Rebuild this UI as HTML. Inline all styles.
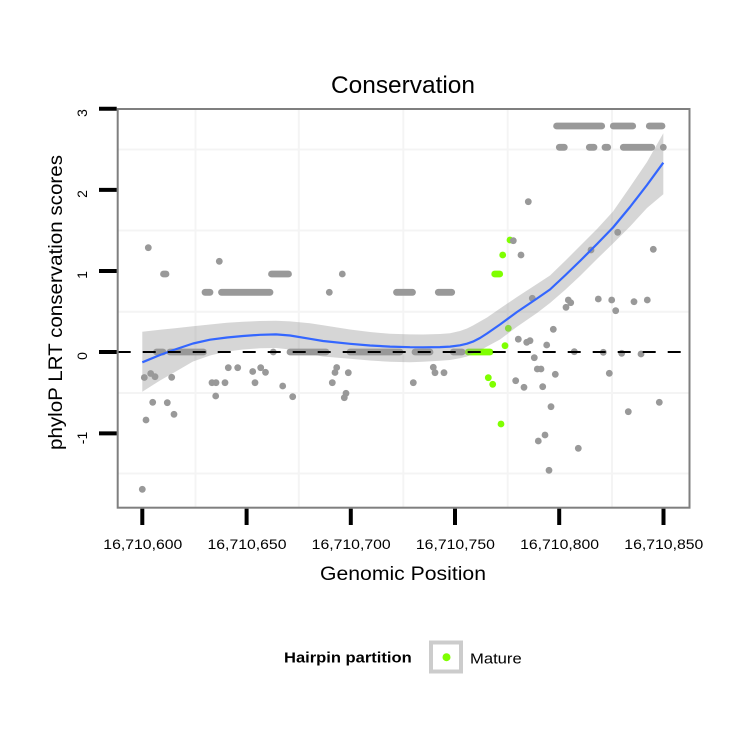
<!DOCTYPE html>
<html><head><meta charset="utf-8"><style>
html,body{margin:0;padding:0;background:#fff;}
svg{display:block;}
text{font-family:"Liberation Sans",Arial,sans-serif;fill:#000;}
</style></head><body>
<svg width="750" height="750" viewBox="0 0 750 750" xmlns="http://www.w3.org/2000/svg">
<rect x="0" y="0" width="750" height="750" fill="#fff"/>
<g stroke="#f4f4f4" stroke-width="2">
<line x1="195.5" y1="109" x2="195.5" y2="507.7"/>
<line x1="298.8" y1="109" x2="298.8" y2="507.7"/>
<line x1="403.3" y1="109" x2="403.3" y2="507.7"/>
<line x1="507.7" y1="109" x2="507.7" y2="507.7"/>
<line x1="612" y1="109" x2="612" y2="507.7"/>
<line x1="117.7" y1="149.5" x2="689.5" y2="149.5"/>
<line x1="117.7" y1="230.5" x2="689.5" y2="230.5"/>
<line x1="117.7" y1="311.7" x2="689.5" y2="311.7"/>
<line x1="117.7" y1="393" x2="689.5" y2="393"/>
<line x1="117.7" y1="473.5" x2="689.5" y2="473.5"/>
</g>
<g stroke="#999999" stroke-width="6.8" stroke-linecap="round">
<line x1="205" y1="292.3" x2="210" y2="292.3"/>
<line x1="221.5" y1="292.3" x2="270" y2="292.3"/>
<line x1="396.5" y1="292.3" x2="412.5" y2="292.3"/>
<line x1="438.3" y1="292.3" x2="451.7" y2="292.3"/>
<line x1="163.5" y1="274" x2="166" y2="274"/>
<line x1="271.5" y1="274" x2="288.5" y2="274"/>
<line x1="156.5" y1="352" x2="163" y2="352"/>
<line x1="170" y1="352" x2="203.5" y2="352"/>
<line x1="290" y1="352" x2="326" y2="352"/>
<line x1="350" y1="352" x2="400" y2="352"/>
<line x1="415" y1="352" x2="430" y2="352"/>
<line x1="453.3" y1="352" x2="462" y2="352"/>
<line x1="556.6" y1="126" x2="601.7" y2="126"/>
<line x1="613.3" y1="126" x2="632.7" y2="126"/>
<line x1="649.3" y1="126" x2="662" y2="126"/>
<line x1="559.3" y1="147.3" x2="564.3" y2="147.3"/>
<line x1="589.3" y1="147.3" x2="594" y2="147.3"/>
<line x1="605" y1="147.3" x2="607.7" y2="147.3"/>
<line x1="623.3" y1="147.3" x2="651.7" y2="147.3"/>
</g>
<g fill="#999999">
<circle cx="663.3" cy="147.3" r="3.4"/>
<circle cx="148.3" cy="247.7" r="3.4"/>
<circle cx="219.3" cy="261.3" r="3.4"/>
<circle cx="342.3" cy="274" r="3.4"/>
<circle cx="329.3" cy="292.3" r="3.4"/>
<circle cx="273.3" cy="352" r="3.4"/>
<circle cx="528.3" cy="201.7" r="3.4"/>
<circle cx="521" cy="255" r="3.4"/>
<circle cx="617.7" cy="232.3" r="3.4"/>
<circle cx="591" cy="250" r="3.4"/>
<circle cx="653.3" cy="249.3" r="3.4"/>
<circle cx="532.3" cy="298.3" r="3.4"/>
<circle cx="568.3" cy="300" r="3.4"/>
<circle cx="570.7" cy="302.7" r="3.4"/>
<circle cx="566" cy="307.3" r="3.4"/>
<circle cx="598.3" cy="299" r="3.4"/>
<circle cx="611.7" cy="300" r="3.4"/>
<circle cx="615.7" cy="310.7" r="3.4"/>
<circle cx="634" cy="301.7" r="3.4"/>
<circle cx="647.3" cy="300" r="3.4"/>
<circle cx="553.3" cy="329.3" r="3.4"/>
<circle cx="518.3" cy="339.2" r="3.4"/>
<circle cx="526.7" cy="342.3" r="3.4"/>
<circle cx="530" cy="340.7" r="3.4"/>
<circle cx="546.7" cy="345" r="3.4"/>
<circle cx="534.3" cy="357.7" r="3.4"/>
<circle cx="537.3" cy="369" r="3.4"/>
<circle cx="541" cy="369" r="3.4"/>
<circle cx="555.3" cy="374.3" r="3.4"/>
<circle cx="515.7" cy="380.7" r="3.4"/>
<circle cx="524" cy="387.3" r="3.4"/>
<circle cx="542.7" cy="386.7" r="3.4"/>
<circle cx="574.3" cy="351.7" r="3.4"/>
<circle cx="603.3" cy="352.3" r="3.4"/>
<circle cx="621.7" cy="353.3" r="3.4"/>
<circle cx="641" cy="354" r="3.4"/>
<circle cx="609.3" cy="373.3" r="3.4"/>
<circle cx="551" cy="406.7" r="3.4"/>
<circle cx="545" cy="435" r="3.4"/>
<circle cx="538.3" cy="441" r="3.4"/>
<circle cx="578.3" cy="448.3" r="3.4"/>
<circle cx="549" cy="470.3" r="3.4"/>
<circle cx="628.3" cy="411.7" r="3.4"/>
<circle cx="659.3" cy="402.3" r="3.4"/>
<circle cx="144.3" cy="377.5" r="3.4"/>
<circle cx="150.7" cy="373.5" r="3.4"/>
<circle cx="155" cy="376.7" r="3.4"/>
<circle cx="171.7" cy="377.3" r="3.4"/>
<circle cx="152.7" cy="402.3" r="3.4"/>
<circle cx="167.3" cy="402.7" r="3.4"/>
<circle cx="146" cy="420" r="3.4"/>
<circle cx="174" cy="414.3" r="3.4"/>
<circle cx="142.3" cy="489.3" r="3.4"/>
<circle cx="212" cy="382.7" r="3.4"/>
<circle cx="216" cy="382.7" r="3.4"/>
<circle cx="225" cy="382.7" r="3.4"/>
<circle cx="215.7" cy="396" r="3.4"/>
<circle cx="228.3" cy="367.7" r="3.4"/>
<circle cx="237.7" cy="367.7" r="3.4"/>
<circle cx="252.7" cy="371.5" r="3.4"/>
<circle cx="260.7" cy="367.7" r="3.4"/>
<circle cx="265.5" cy="372.3" r="3.4"/>
<circle cx="255" cy="382.7" r="3.4"/>
<circle cx="282.7" cy="386" r="3.4"/>
<circle cx="292.7" cy="396.7" r="3.4"/>
<circle cx="336.7" cy="367.5" r="3.4"/>
<circle cx="335" cy="372.5" r="3.4"/>
<circle cx="348.3" cy="372.7" r="3.4"/>
<circle cx="332.3" cy="382.7" r="3.4"/>
<circle cx="346" cy="393.3" r="3.4"/>
<circle cx="344.3" cy="397.7" r="3.4"/>
<circle cx="433.3" cy="367.3" r="3.4"/>
<circle cx="435" cy="372.7" r="3.4"/>
<circle cx="444" cy="372.7" r="3.4"/>
<circle cx="413.3" cy="382.7" r="3.4"/>
</g>
<g stroke="#7FFF00" stroke-width="6.8" stroke-linecap="round">
<line x1="468.3" y1="352" x2="490" y2="352"/>
<line x1="494.7" y1="274" x2="499.7" y2="274"/>
</g>
<g fill="#7FFF00">
<circle cx="510" cy="240" r="3.4"/>
<circle cx="502.7" cy="255" r="3.4"/>
<circle cx="508.3" cy="328.3" r="3.4"/>
<circle cx="505" cy="345.7" r="3.4"/>
<circle cx="488.3" cy="377.7" r="3.4"/>
<circle cx="492.7" cy="384.3" r="3.4"/>
<circle cx="501" cy="424" r="3.4"/>
</g>
<circle cx="513.3" cy="240.7" r="3.4" fill="#999999"/>
<polygon fill="#999999" fill-opacity="0.4" points="142.3,331.7 160,329.8 175,328.3 193,326.3 210,324.5 227,322.8 243,321.7 260,321 276,320.7 290,321.4 310,323.3 323,325.3 350,329.5 370,332 390,333.8 410,334.4 423,334.5 440,334 450,333.2 460,331 467,328.5 473,325.5 480,321.5 487,317.5 500,308.5 517,297 537,284 550,275.5 565,261 580,246 597,229 613,211.5 630,187 647,162 663.3,133.3 663.3,194.3 647,208 630,226.5 613,243.5 597,259 580,276 565,290 550,303 537,313 517,326.7 500,339.5 487,346.5 480,350.5 473,353.5 467,356.5 460,358.3 450,360 440,360.8 423,361.8 410,362.2 390,361.8 370,360.5 350,358.8 323,356.5 310,354 290,349.5 276,348 260,348.3 243,349.5 227,351.5 210,355.5 193,361.5 175,372 160,380.5 142.3,391.7"/>
<polyline fill="none" stroke="#3366FF" stroke-width="2.2" stroke-linejoin="round" points="142.3,362.3 160,355 175,349.5 193,343.5 210,339.7 227,337.5 243,336 260,334.8 276,334.4 290,335.5 310,338.8 323,341 350,343.8 370,345.5 390,346.6 410,347.2 423,347.3 440,347.1 450,346.6 460,345.3 467,343.7 473,341.6 480,338 487,333.5 500,324.5 517,312 537,298.5 550,289.5 565,275.5 580,261 597,244 613,227.5 630,207 647,185 663.3,162.7"/>
<line x1="117.7" y1="352" x2="689.5" y2="352" stroke="#000" stroke-width="2" stroke-dasharray="13 12"/>
<rect x="117.7" y="109" width="571.8" height="398.7" fill="none" stroke="#7f7f7f" stroke-width="2"/>
<g stroke="#000" stroke-width="4">
<line x1="99" y1="108.8" x2="116.7" y2="108.8"/>
<line x1="99" y1="189.9" x2="116.7" y2="189.9"/>
<line x1="99" y1="271" x2="116.7" y2="271"/>
<line x1="99" y1="352" x2="116.7" y2="352"/>
<line x1="99" y1="433.4" x2="116.7" y2="433.4"/>
<line x1="142.3" y1="508.7" x2="142.3" y2="525"/>
<line x1="246.6" y1="508.7" x2="246.6" y2="525"/>
<line x1="350.8" y1="508.7" x2="350.8" y2="525"/>
<line x1="455" y1="508.7" x2="455" y2="525"/>
<line x1="559.2" y1="508.7" x2="559.2" y2="525"/>
<line x1="663.5" y1="508.7" x2="663.5" y2="525"/>
</g>
<g font-size="14" text-anchor="middle">
<text transform="translate(87,113) rotate(-90)">3</text>
<text transform="translate(87,194) rotate(-90)">2</text>
<text transform="translate(87,275) rotate(-90)">1</text>
<text transform="translate(87,356) rotate(-90)">0</text>
<text transform="translate(87,438) rotate(-90)">-1</text>
</g>
<g font-size="13.5" text-anchor="middle">
<text x="142.8" y="549" textLength="79" lengthAdjust="spacingAndGlyphs">16,710,600</text>
<text x="247" y="549" textLength="79" lengthAdjust="spacingAndGlyphs">16,710,650</text>
<text x="351.2" y="549" textLength="79" lengthAdjust="spacingAndGlyphs">16,710,700</text>
<text x="455.4" y="549" textLength="79" lengthAdjust="spacingAndGlyphs">16,710,750</text>
<text x="559.6" y="549" textLength="79" lengthAdjust="spacingAndGlyphs">16,710,800</text>
<text x="663.8" y="549" textLength="79" lengthAdjust="spacingAndGlyphs">16,710,850</text>
</g>
<text x="403" y="93" font-size="24" text-anchor="middle" textLength="144" lengthAdjust="spacingAndGlyphs">Conservation</text>
<text x="403" y="580" font-size="19" text-anchor="middle" textLength="166" lengthAdjust="spacingAndGlyphs">Genomic Position</text>
<text transform="translate(62,302.5) rotate(-90)" font-size="19" text-anchor="middle" textLength="295" lengthAdjust="spacingAndGlyphs">phyloP LRT conservation scores</text>
<text x="284" y="662.3" font-size="14.5" font-weight="bold" textLength="127.7" lengthAdjust="spacingAndGlyphs">Hairpin partition</text>
<rect x="431" y="642.5" width="30" height="29" fill="#fff" stroke="#cccccc" stroke-width="4"/>
<circle cx="446.5" cy="657.2" r="4" fill="#7FFF00"/>
<text x="470" y="663.3" font-size="14.5" textLength="51.7" lengthAdjust="spacingAndGlyphs">Mature</text>
</svg>
</body></html>
